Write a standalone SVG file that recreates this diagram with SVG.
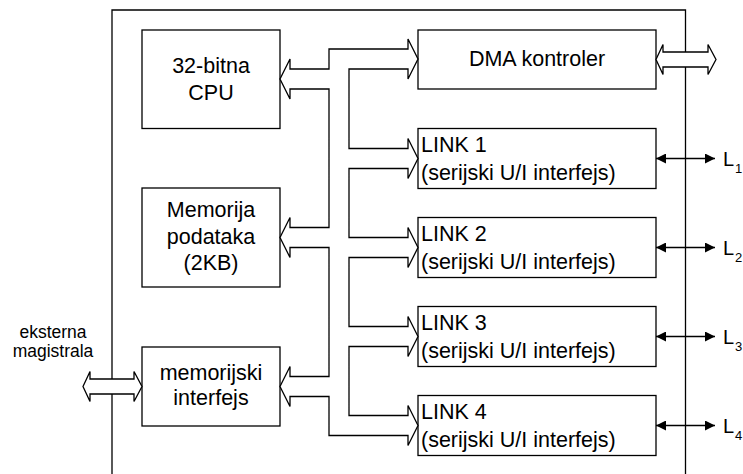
<svg xmlns="http://www.w3.org/2000/svg" width="743" height="474" viewBox="0 0 743 474">
<style>
.box{fill:#fff;stroke:#000;stroke-width:1.3}
.ln{fill:none;stroke:#000;stroke-width:1.3}
.bus{fill:#fff;stroke:#000;stroke-width:1.3;stroke-linejoin:miter}
text{font-family:"Liberation Sans",Arial,sans-serif;fill:#000}
.t{font-size:21.5px}
.c{text-anchor:middle}
.s{font-size:17.5px}
.L{font-size:20px}
.sub{font-size:13px}
</style>
<defs>
<marker id="ah" viewBox="0 0 10 10" refX="10" refY="5" markerWidth="10" markerHeight="10" markerUnits="userSpaceOnUse" orient="auto-start-reverse">
<path d="M0,0 L10,5 L0,10 z" fill="#000"/>
</marker>
</defs>
<rect width="743" height="474" fill="#fff"/>
<g id="frame">
<path class="ln" d="M112,480 V10 H685.5 V480"/>
</g>
<g id="cpu">
<rect class="box" x="142" y="30" width="138" height="98.5"/>
<text class="t c" x="211" y="73">32-bitna</text>
<text class="t c" x="211" y="100">CPU</text>
</g>
<g id="memorija">
<rect class="box" x="142" y="188" width="138" height="99"/>
<text class="t c" x="211" y="217">Memorija</text>
<text class="t c" x="211" y="243.5">podataka</text>
<text class="t c" x="211" y="270">(2KB)</text>
</g>
<g id="memint">
<rect class="box" x="142" y="347" width="138" height="79"/>
<text class="t c" x="211" y="380">memorijski</text>
<text class="t c" x="211" y="405">interfejs</text>
</g>
<g id="dma">
<rect class="box" x="418" y="30" width="238" height="59"/>
<text class="t c" x="537" y="66">DMA kontroler</text>
</g>
<g id="link1">
<rect class="box" x="418" y="128.5" width="238" height="60"/>
<text class="t" x="421" y="152">LINK 1</text>
<text class="t" x="421" y="180">(serijski U/I interfejs)</text>
</g>
<g id="link2">
<rect class="box" x="418" y="217.5" width="238" height="60"/>
<text class="t" x="421" y="241">LINK 2</text>
<text class="t" x="421" y="269">(serijski U/I interfejs)</text>
</g>
<g id="link3">
<rect class="box" x="418" y="306.5" width="238" height="60"/>
<text class="t" x="421" y="330">LINK 3</text>
<text class="t" x="421" y="358">(serijski U/I interfejs)</text>
</g>
<g id="link4">
<rect class="box" x="418" y="395.5" width="238" height="60"/>
<text class="t" x="421" y="419">LINK 4</text>
<text class="t" x="421" y="447">(serijski U/I interfejs)</text>
</g>
<g id="ext-label">
<text class="s c" x="53" y="338">eksterna</text>
<text class="s c" x="53" y="357">magistrala</text>
</g>
<g id="connectors">
<path class="bus" d="M290,69 H329 V49 H408 V39 L418,59 L408,79 V69 H349 V148.5 H408 V138.5 L418,158.5 L408,178.5 V168.5 H349 V237.5 H408 V227.5 L418,247.5 L408,267.5 V257.5 H349 V326.5 H408 V316.5 L418,336.5 L408,356.5 V346.5 H349 V415.5 H408 V405.5 L418,425.5 L408,445.5 V435.5 H329 V396.5 H290 V406.5 L280,386.5 L290,366.5 V376.5 H329 V247.5 H290 V257.5 L280,237.5 L290,217.5 V227.5 H329 V89 H290 V99 L280,79 L290,59 Z"/>
<path class="bus" d="M656,59.5 L663,44.5 V52 H708 V44.5 L716,59.5 L708,74.5 V67 H663 V74.5 Z"/>
<path class="bus" d="M83,386.5 L90,371.5 V379 H134 V371.5 L142,386.5 L134,401.5 V394 H90 V401.5 Z"/>
<line class="ln" x1="656" y1="158.5" x2="715" y2="158.5" marker-start="url(#ah)" marker-end="url(#ah)"/>
<line class="ln" x1="656" y1="247.5" x2="715" y2="247.5" marker-start="url(#ah)" marker-end="url(#ah)"/>
<line class="ln" x1="656" y1="336.5" x2="715" y2="336.5" marker-start="url(#ah)" marker-end="url(#ah)"/>
<line class="ln" x1="656" y1="425.5" x2="715" y2="425.5" marker-start="url(#ah)" marker-end="url(#ah)"/>
</g>
<g id="labels-L">
<text class="L" x="723" y="166">L</text><text class="sub" x="735" y="173">1</text>
<text class="L" x="723" y="255">L</text><text class="sub" x="735" y="262">2</text>
<text class="L" x="723" y="344">L</text><text class="sub" x="735" y="351">3</text>
<text class="L" x="723" y="433">L</text><text class="sub" x="735" y="440">4</text>
</g>
</svg>
